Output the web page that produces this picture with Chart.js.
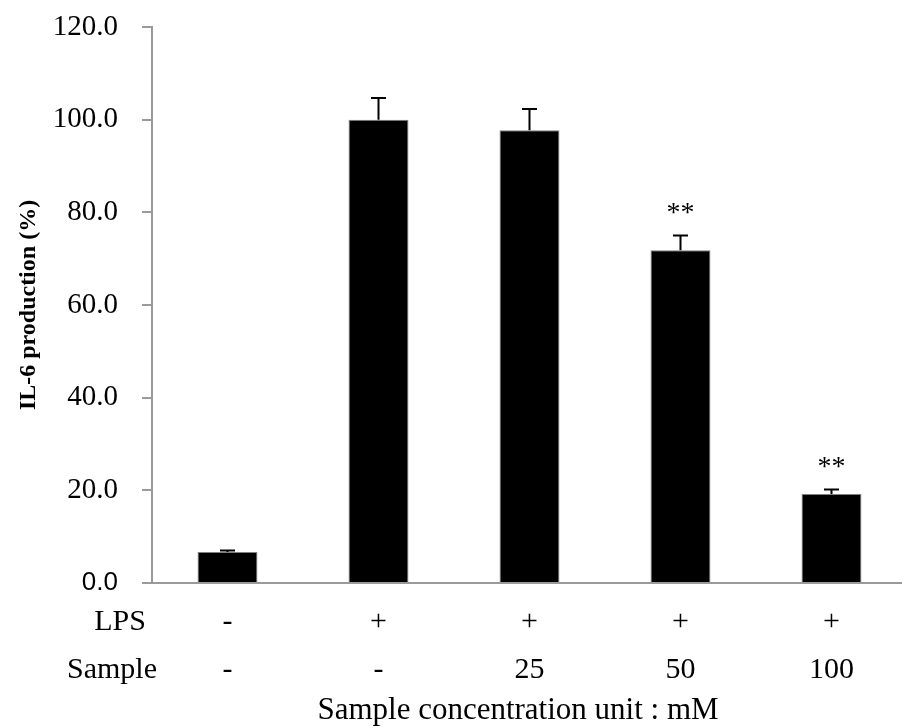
<!DOCTYPE html>
<html>
<head>
<meta charset="utf-8">
<script src="https://cdn.jsdelivr.net/npm/chart.js@4/dist/chart.umd.min.js"></script>
<style>
  html, body { margin: 0; padding: 0; overflow: hidden; background: #fff; }
  #wrap { width: 910px; height: 726px; }
</style>
</head>
<body>
<div id="wrap"><canvas id="c" width="910" height="726"></canvas></div>
<script>
// Treatment groups (LPS row / Sample row under each bar)
const lpsRow = ['-', '+', '+', '+', '+'];
const sampleRow = ['-', '-', '25', '50', '100'];
// IL-6 production relative to LPS control (%)
const meanValues = [6.7, 100.0, 97.7, 71.8, 19.2];
const errorValues = [0.3, 4.7, 4.6, 3.2, 1.0];
const significance = ['', '', '', '**', '**'];
const yTicks = [0, 20, 40, 60, 80, 100, 120];

const serif = "'Liberation Serif', 'Times New Roman', serif";
const axisGray = '#9a9a9a';

const categories = lpsRow.map((l, i) => [l, sampleRow[i]]);

// Error bars, significance stars, row captions and the unit note
const extras = {
  id: 'extras',
  afterDatasetsDraw(chart) {
    const ctx = chart.ctx;
    const y = chart.scales.y;
    const meta = chart.getDatasetMeta(0);
    ctx.save();
    meta.data.forEach((bar, i) => {
      const top = y.getPixelForValue(meanValues[i] + errorValues[i]);
      const base = y.getPixelForValue(meanValues[i]);
      ctx.strokeStyle = '#000';
      ctx.lineWidth = 2;
      ctx.beginPath();
      ctx.moveTo(bar.x, base);
      ctx.lineTo(bar.x, top);
      ctx.moveTo(bar.x - 7.5, top);
      ctx.lineTo(bar.x + 7.5, top);
      ctx.stroke();
      if (significance[i]) {
        ctx.fillStyle = '#000';
        ctx.font = '28px ' + serif;
        ctx.textAlign = 'center';
        ctx.textBaseline = 'middle';
        ctx.fillText(significance[i], bar.x, top - 22);
      }
    });
    ctx.fillStyle = '#000';
    ctx.font = '30px ' + serif;
    ctx.textAlign = 'center';
    ctx.textBaseline = 'middle';
    ctx.fillText('LPS', 120, 622);
    ctx.fillText('Sample', 112, 670);
    ctx.font = '31px ' + serif;
    ctx.fillText('Sample concentration unit : mM', 518, 711);
    ctx.restore();
  }
};

new Chart(document.getElementById('c'), {
  type: 'bar',
  data: {
    labels: categories,
    datasets: [{
      data: meanValues,
      backgroundColor: '#000',
      borderColor: '#808080',
      borderWidth: 1,
      categoryPercentage: 1,
      barPercentage: 0.397
    }]
  },
  options: {
    responsive: false,
    animation: false,
    layout: { padding: { top: 27, right: 3, left: 0, bottom: 0 } },
    plugins: { legend: { display: false }, tooltip: { enabled: false } },
    scales: {
      x: {
        grid: { display: false, drawTicks: false },
        border: { display: true, color: axisGray, width: 2 },
        ticks: {
          color: '#000',
          font: { family: serif, size: 30, lineHeight: '48px' },
          padding: 15,
          maxRotation: 0,
          autoSkip: false
        },
        afterFit(scale) { scale.height = 143; }
      },
      y: {
        min: 0,
        max: 120,
        afterBuildTicks(scale) { scale.ticks = yTicks.map(v => ({ value: v })); },
        grid: {
          drawOnChartArea: false,
          drawTicks: true,
          tickLength: 10,
          color: axisGray,
          lineWidth: 2
        },
        border: { display: true, color: axisGray, width: 2 },
        ticks: {
          color: '#000',
          padding: 24,
          callback: v => Number(v).toFixed(1),
          font: ctx => (ctx.tick && ctx.tick.value === 0)
            ? { family: "'Liberation Sans', Arial, sans-serif", size: 26 }
            : { family: serif, size: 29 }
        },
        title: {
          display: true,
          text: 'IL-6 production (%)',
          color: '#000',
          font: { family: serif, size: 24, weight: 'bold' },
          padding: { top: 14, bottom: 0 }
        },
        afterFit(scale) {
          scale.width = 152;
          scale.paddingTop = 0;
          scale.paddingBottom = 0;
        }
      }
    }
  },
  plugins: [extras]
});
</script>
</body>
</html>
